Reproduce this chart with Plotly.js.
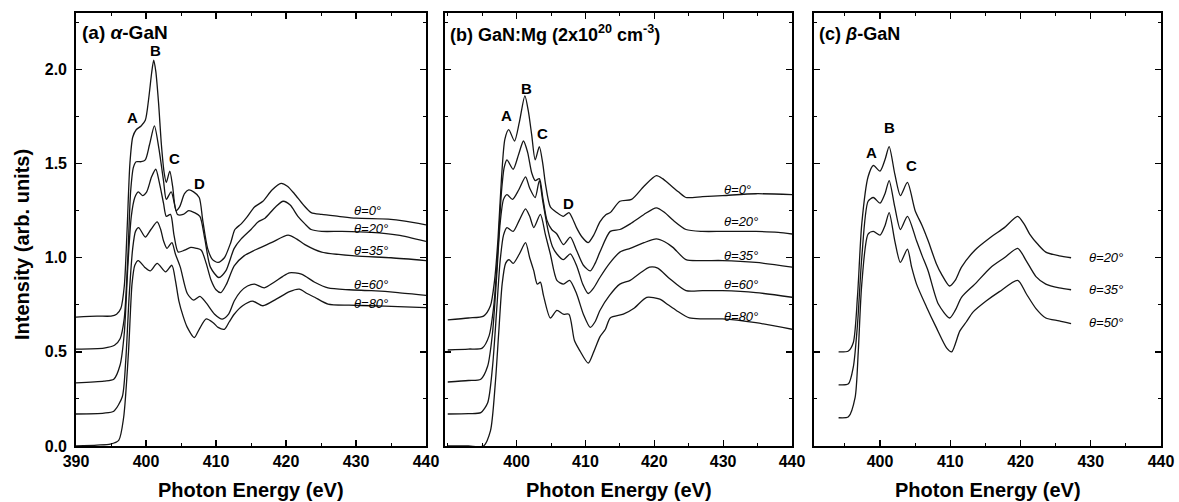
<!DOCTYPE html>
<html><head><meta charset="utf-8">
<script src="https://cdn.plot.ly/plotly-3.0.1.min.js"></script>
<style>html,body{margin:0;padding:0;background:#fff}#chart{width:1179px;height:502px}</style>
</head><body><div id="chart"></div>
<script>
// ---------- DATA ----------
// Panel (a) alpha-GaN
const aE0 = [390,393,395,395.8,396.4,396.9,397.3,397.7,398.1,398.6,399.3,399.9,400.4,400.8,401.1,401.4,401.8,402.2,402.6,402.9,403.4,403.8,404.3,404.8,405.5,406.1,406.8,407.6,408.1,408.8,409.5,410.3,411.2,412.1,412.7,413.6,414.5,415.5,416.7,418.0,419.3,420.2,421.2,422.5,423.6,425.1,427.5,430,434.6,437,440];
const aI0 = [0.685,0.69,0.69,0.70,0.73,0.85,1.15,1.50,1.64,1.68,1.70,1.73,1.85,1.98,2.05,1.99,1.82,1.60,1.45,1.40,1.46,1.38,1.25,1.27,1.34,1.36,1.35,1.32,1.20,1.05,0.99,0.975,1.00,1.08,1.15,1.18,1.22,1.27,1.30,1.36,1.395,1.38,1.34,1.28,1.24,1.23,1.22,1.21,1.205,1.195,1.175];
const aE20 = [390,394,395.5,396.3,396.9,397.4,397.8,398.2,398.6,399.3,399.9,400.5,401.2,401.8,402.5,402.9,403.6,404.5,405.3,406.1,406.9,407.7,408.4,409.2,410.4,411.4,412.6,413.6,415.0,416.0,417.0,418.5,419.6,420.6,421.7,422.7,423.6,425.1,428,432.2,436,440];
const aI20 = [0.515,0.52,0.535,0.57,0.68,1.00,1.35,1.48,1.51,1.51,1.52,1.60,1.70,1.59,1.41,1.31,1.35,1.23,1.23,1.25,1.24,1.22,1.10,0.95,0.895,0.93,1.05,1.10,1.15,1.19,1.21,1.27,1.30,1.28,1.22,1.18,1.15,1.14,1.14,1.135,1.12,1.087];
const aE35 = [390,394,395.4,396.3,396.9,397.4,397.9,398.4,398.9,399.5,400.1,400.8,401.4,401.9,402.5,402.9,403.5,404.0,404.6,405.5,406.4,407.2,407.9,408.6,409.3,410.0,410.7,411.5,412.6,414.0,415.5,417.9,420.3,421.5,422.7,425.1,429.8,435,440];
const aI35 = [0.335,0.345,0.355,0.43,0.60,0.95,1.22,1.32,1.35,1.33,1.35,1.43,1.47,1.40,1.29,1.22,1.23,1.12,1.03,1.04,1.055,1.05,1.04,0.97,0.88,0.83,0.815,0.86,0.957,1.01,1.04,1.08,1.12,1.10,1.07,1.03,1.01,1.00,0.985];
const aE60 = [390,394,395.4,396.6,397.1,397.6,398.1,398.5,398.95,399.9,400.7,401.6,402.1,402.5,403.0,403.7,404.2,404.9,405.9,406.8,407.7,408.6,409.8,410.9,411.8,412.6,413.5,414.5,415.5,416.9,418.3,419.5,420.5,422.2,424.1,426,429,432.2,436,440];
const aI60 = [0.17,0.175,0.185,0.26,0.45,0.80,1.05,1.14,1.16,1.11,1.15,1.19,1.15,1.09,1.05,1.08,1.02,0.95,0.81,0.775,0.795,0.76,0.70,0.674,0.70,0.77,0.82,0.85,0.86,0.84,0.87,0.90,0.92,0.913,0.87,0.84,0.83,0.825,0.815,0.80];
const aE80 = [390,393,394.9,396.1,396.8,397.5,398.0,398.4,398.9,399.8,400.6,401.6,402.8,403.7,404.2,404.7,405.3,405.9,406.9,407.6,408.6,409.6,410.3,411.2,411.9,412.6,413.8,415.2,416.7,418.6,420.5,421.9,423,424.1,426,429,432.2,436,440];
const aI80 = [0.0,0.005,0.01,0.03,0.15,0.50,0.86,0.96,0.985,0.95,0.93,0.97,0.925,0.96,0.88,0.77,0.69,0.63,0.576,0.62,0.675,0.655,0.63,0.62,0.66,0.70,0.745,0.77,0.745,0.78,0.82,0.833,0.81,0.79,0.754,0.748,0.745,0.74,0.735];

// Panel (b) GaN:Mg
const bE0 = [390,393,395.2,396.2,396.8,397.3,397.8,398.3,398.86,399.7,400.4,401.2,401.7,402.2,402.7,403.3,403.8,404.2,404.9,405.85,406.8,407.6,408.1,408.7,409.5,410.4,411.2,412.1,413.0,413.6,415.0,416.7,418.5,420.3,421.2,422.2,423.5,424.6,427,429.9,434.75,440];
const bI0 = [0.67,0.68,0.69,0.745,0.88,1.10,1.42,1.63,1.68,1.62,1.72,1.86,1.78,1.65,1.52,1.59,1.50,1.39,1.27,1.24,1.22,1.24,1.21,1.16,1.11,1.08,1.12,1.19,1.23,1.24,1.30,1.31,1.38,1.436,1.42,1.39,1.35,1.32,1.325,1.33,1.34,1.335];
const bE20 = [390,393,395,396,396.7,397.3,397.8,398.2,398.6,399.5,400.3,401.0,401.6,402.2,402.7,403.3,403.8,404.4,405.1,405.85,406.8,407.8,408.7,409.7,410.7,411.4,412.1,413.6,415,416.5,418.5,420.3,421.5,422.7,424.6,427,429.9,434.75,438,440];
const bI20 = [0.51,0.515,0.52,0.585,0.75,1.05,1.35,1.48,1.52,1.47,1.55,1.62,1.56,1.45,1.41,1.42,1.32,1.20,1.15,1.126,1.07,1.11,1.04,0.96,0.93,0.97,1.03,1.14,1.15,1.18,1.23,1.265,1.24,1.20,1.15,1.14,1.14,1.14,1.135,1.126];
const bE35 = [390,393,394.8,395.8,396.5,397.1,397.6,398.1,398.6,399.4,400.3,401.3,401.9,402.7,403.3,403.8,404.6,405.2,405.85,406.8,407.8,408.8,409.6,410.4,411.2,412.1,413.5,415,416.5,418.5,420.3,421.5,422.7,424.6,427,429.9,434.75,440];
const bI35 = [0.34,0.348,0.355,0.425,0.60,0.90,1.18,1.31,1.335,1.31,1.36,1.43,1.37,1.32,1.41,1.30,1.14,1.06,1.02,0.99,1.02,0.95,0.86,0.81,0.84,0.895,0.97,1.03,1.05,1.08,1.10,1.085,1.055,0.99,0.985,0.985,0.975,0.95];
const bE60 = [390,393,394.8,395.8,396.5,397.1,397.6,398.1,398.6,399.5,400.4,401.3,401.9,402.5,403.45,404.2,404.9,405.85,406.8,407.7,408.7,409.7,410.7,411.4,412.1,413.5,415,416.5,418,419.3,420.5,422.2,424.6,427,429.9,434.75,440];
const bI60 = [0.17,0.172,0.177,0.23,0.42,0.72,0.98,1.12,1.16,1.14,1.20,1.26,1.22,1.16,1.23,1.12,1.02,0.88,0.86,0.88,0.81,0.70,0.63,0.66,0.72,0.80,0.86,0.88,0.92,0.95,0.945,0.89,0.825,0.825,0.825,0.815,0.79];
const bE80 = [390,393,395.2,396.2,396.9,397.4,397.9,398.4,398.9,399.5,400.4,401.3,401.9,402.5,403.0,403.45,403.9,404.9,405.85,406.8,407.6,408.4,409.2,410.4,411.2,412.1,412.9,413.6,415.5,417,418.9,420.8,422,423.2,425.1,427,429.9,434.75,440];
const bI80 = [0.0,0.0,0.0,0.08,0.33,0.60,0.86,0.97,0.99,0.97,1.02,1.08,1.00,0.93,0.86,0.87,0.80,0.68,0.72,0.70,0.70,0.56,0.505,0.44,0.50,0.58,0.62,0.68,0.70,0.73,0.79,0.78,0.75,0.72,0.68,0.675,0.675,0.655,0.62];

// Panel (c) beta-GaN
const cE20 = [394.1,395.5,396.2,396.8,397.4,398.3,399.05,400.0,400.7,401.3,402.1,402.9,403.9,405.0,406.0,406.85,408.0,408.75,409.9,410.7,411.6,413.5,415.8,417.7,419.6,420.5,421.3,422.5,423.6,425.5,427.2];
const cI20 = [0.50,0.505,0.55,0.80,1.18,1.43,1.49,1.46,1.52,1.59,1.445,1.33,1.40,1.25,1.17,1.09,0.97,0.913,0.85,0.88,0.95,1.04,1.11,1.16,1.22,1.18,1.126,1.07,1.03,1.01,1.00];
const cE35 = [394.1,395.5,396.2,396.8,397.4,398.3,399.05,400.0,400.7,401.3,402.1,402.9,403.9,405.2,406.0,406.85,408.3,409.9,410.7,411.6,413.5,415.8,417.7,419.6,420.8,422.2,423.6,425.5,427.2];
const cI35 = [0.325,0.33,0.42,0.65,1.00,1.30,1.32,1.29,1.34,1.41,1.27,1.15,1.22,1.09,1.01,0.93,0.754,0.68,0.72,0.79,0.86,0.95,1.00,1.05,0.985,0.90,0.86,0.84,0.83];
const cE50 = [394.1,395.5,396.45,396.9,397.4,398.3,399.05,400.0,400.7,401.3,402.1,402.9,403.9,404.5,405.2,406.6,408.0,409.5,410.2,411.35,412.3,413.2,415.1,417.0,419.6,420.8,422.2,423.6,425.5,427.2];
const cI50 = [0.15,0.155,0.257,0.50,0.86,1.126,1.14,1.12,1.17,1.24,1.09,0.975,1.046,0.95,0.86,0.74,0.63,0.52,0.50,0.61,0.66,0.71,0.77,0.82,0.88,0.81,0.73,0.68,0.665,0.65];

const angleLabelsA = ['θ=0°','θ=20°','θ=35°','θ=60°','θ=80°'];
const angleLabelsB = ['θ=0°','θ=20°','θ=35°','θ=60°','θ=80°'];
const angleLabelsC = ['θ=20°','θ=35°','θ=50°'];
const peakLabelsA = ['A','B','C','D'];
const peakLabelsB = ['A','B','C','D'];
const peakLabelsC = ['A','B','C'];
const xTicksA = [390,400,410,420,430,440];
const xTicksBC = [400,410,420,430,440];
const yTicks = [0,0.5,1.0,1.5,2.0];
const yTickText = ['0.0','0.5','1.0','1.5','2.0'];

// ---------- CHART ----------
const FONT = '"Liberation Sans", Arial, Helvetica, sans-serif';
function tr(x, y, n){
  return {x:x, y:y, xaxis:'x'+(n>1?n:''), yaxis:'y'+(n>1?n:''), type:'scatter', mode:'lines',
    line:{color:'#151515', width:1.3, shape:'spline', smoothing:0.7}, hoverinfo:'skip', showlegend:false};
}
const data = [
  tr(aE0,aI0,1), tr(aE20,aI20,1), tr(aE35,aI35,1), tr(aE60,aI60,1), tr(aE80,aI80,1),
  tr(bE0,bI0,2), tr(bE20,bI20,2), tr(bE35,bI35,2), tr(bE60,bI60,2), tr(bE80,bI80,2),
  tr(cE20,cI20,3), tr(cE35,cI35,3), tr(cE50,cI50,3)
];

const W = 1179, H = 502;
const yDom = [(H-446)/H, (H-13)/H];
function xax(dom, range, ticks){
  return {domain:dom, range:range, tickmode:'array', tickvals:ticks, ticktext:ticks.map(String),
    showline:true, linecolor:'#000', linewidth:1.8, mirror:'ticks', ticks:'inside', ticklen:6, tickwidth:1.3, tickcolor:'#000',
    showgrid:false, zeroline:false, fixedrange:true,
    tickfont:{family:FONT, size:16, color:'#000', weight:'bold'},
    minor:{tickmode:'linear', tick0:390, dtick:5, ticks:'inside', ticklen:3, tickwidth:1, tickcolor:'#000', showgrid:false}};
}
function yax(anchor, labels){
  return {domain:yDom, range:[0,2.3], anchor:anchor, tickmode:'array', tickvals:yTicks, ticktext:yTickText,
    showticklabels:labels, showline:true, linecolor:'#000', linewidth:1.8, mirror:'ticks', ticks:'inside', ticklen:6, tickwidth:1.3, tickcolor:'#000',
    showgrid:false, zeroline:false, fixedrange:true, ticklabelstandoff:4,
    tickfont:{family:FONT, size:16, color:'#000', weight:'bold'},
    minor:{tickmode:'linear', tick0:0, dtick:0.25, ticks:'inside', ticklen:3, tickwidth:1, tickcolor:'#000', showgrid:false}};
}

const ann = [];
function txt(xref, yref, x, y, text, size, opts){
  ann.push(Object.assign({xref:xref, yref:yref, x:x, y:y, text:text, showarrow:false,
    font:{family:FONT, size:size, color:'#000'}, xanchor:'center', yanchor:'middle'}, opts||{}));
}
// panel titles
txt('x','y',390.6,2.197,'<b>(a) <i>α</i>-GaN</b>',19,{xanchor:'left'});
txt('x2','y2',390.05,2.19,'<b>(b) GaN:Mg (2x10<sup>20</sup> cm<sup>-3</sup>)</b>',18,{xanchor:'left'});
txt('x3','y3',391.0,2.19,'<b>(c) <i>β</i>-GaN</b>',18,{xanchor:'left'});
// peak labels
const pkA = [[398.0,1.746],[401.35,2.10],[404.1,1.527],[407.6,1.394]];
const pkB = [[398.5,1.755],[401.5,1.90],[403.7,1.66],[407.5,1.29]];
const pkC = [[398.8,1.56],[401.4,1.69],[404.5,1.49]];
peakLabelsA.forEach((t,i)=>txt('x','y',pkA[i][0],pkA[i][1],'<b>'+t+'</b>',15));
peakLabelsB.forEach((t,i)=>txt('x2','y2',pkB[i][0],pkB[i][1],'<b>'+t+'</b>',15));
peakLabelsC.forEach((t,i)=>txt('x3','y3',pkC[i][0],pkC[i][1],'<b>'+t+'</b>',15));
// angle labels
const laA = [1.25,1.155,1.04,0.86,0.755];
const laB = [1.365,1.19,1.01,0.86,0.69];
const laC = [1.0,0.83,0.655];
angleLabelsA.forEach((t,i)=>txt('x','y',429.4,laA[i],'<i>'+t+'</i>',13,{xanchor:'left'}));
angleLabelsB.forEach((t,i)=>txt('x2','y2',429.9,laB[i],'<i>'+t+'</i>',13,{xanchor:'left'}));
angleLabelsC.forEach((t,i)=>txt('x3','y3',429.4,laC[i],'<i>'+t+'</i>',13,{xanchor:'left'}));
// axis titles
txt('paper','paper',22/W,(H-245)/H,'<b>Intensity (arb. units)</b>',20,{textangle:-90});
[251,618.5,987.5].forEach(cx=>txt('paper','paper',cx/W,(H-490)/H,'<b>Photon Energy (eV)</b>',20));

const layout = {
  width:W, height:H, margin:{l:0,r:0,t:0,b:0}, paper_bgcolor:'#fff', plot_bgcolor:'#fff',
  showlegend:false, font:{family:FONT, color:'#000'},
  xaxis: Object.assign(xax([76/W,426/W],[390,440],xTicksA),{anchor:'y'}),
  xaxis2: Object.assign(xax([445/W,792/W],[389.6,440],xTicksBC),{anchor:'y2'}),
  xaxis3: Object.assign(xax([814/W,1161/W],[390.6,440],xTicksBC),{anchor:'y3'}),
  yaxis: yax('x',true),
  yaxis2: yax('x2',false),
  yaxis3: yax('x3',false),
  annotations: ann
};
Plotly.newPlot('chart', data, layout, {staticPlot:true, displayModeBar:false});
</script></body></html>
